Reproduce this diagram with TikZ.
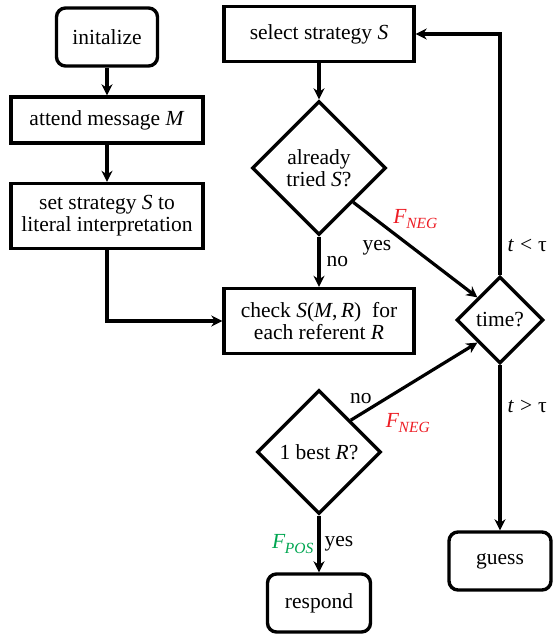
\documentclass[tikz,border=0pt]{standalone}
\usepackage{fontspec}
\setmainfont{Liberation Serif}
\usetikzlibrary{shapes.geometric,arrows.meta}
\definecolor{negred}{RGB}{237,28,36}
\definecolor{posgreen}{RGB}{0,166,81}
\newcommand{\Fsub}[1]{\textit{F}\kern-0.5pt\raisebox{-0.22em}{\fontsize{15.5}{16}\selectfont\textit{#1}}}
\begin{document}
\begin{tikzpicture}[x=1pt,y=1pt,
  every node/.style={font=\fontsize{21.5}{23}\selectfont},
  box/.style={draw,line width=3.4pt,rectangle,align=center,inner sep=2pt},
  rbox/.style={box,rounded corners=9pt},
  dia/.style={draw,line width=3.4pt,diamond,aspect=1,inner sep=0pt,align=center},
  conn/.style={line width=3.2pt,-{Stealth[length=11pt,width=11pt,inset=3.5pt]}},
  lbl/.style={inner sep=2pt}]
\useasboundingbox (0,0) rectangle (553,-636);
% nodes
\node[rbox,minimum width=101pt,minimum height=58pt] (init) at (107,-37) {initalize};
\node[box,minimum width=192pt,minimum height=46pt] (attend) at (107,-120) {attend message \textit{M}};
\node[box,minimum width=192pt,minimum height=65pt] (setS) at (107,-216) {set strategy \textit{S} to\\[-1pt]literal interpretation};
\node[box,minimum width=190pt,minimum height=55pt] (select) at (319,-34) {select strategy \textit{S}};
\node[dia,minimum width=134pt,minimum height=134pt] (tried) at (319,-168) {already\\[-1pt]tried \textit{S}?};
\node[box,minimum width=190pt,minimum height=65pt] (check) at (319,-321) {check \textit{S}(\textit{M},\,\textit{R})\enspace for\\[-1pt]each referent \textit{R}};
\node[dia,minimum width=124pt,minimum height=124pt] (best) at (319,-452) {1 best \textit{R}?};
\node[rbox,minimum width=103pt,minimum height=58pt] (respond) at (319,-603) {respond};
\node[dia,minimum width=87pt,minimum height=87pt] (time) at (500,-320) {time?};
\node[rbox,minimum width=102pt,minimum height=58pt] (guess) at (500,-561) {guess};
% connectors
\draw[conn] (init) -- (attend);
\draw[conn] (attend) -- (setS);
\draw[conn] (setS.south) |- (check.west);
\draw[conn] (select) -- (tried);
\draw[conn] (tried) -- node[lbl,right,xshift=4pt] {no} (check);
\draw[conn] (tried.south east) -- node[lbl,pos=0.5,yshift=31pt,text=negred] {\Fsub{NEG}}
   node[lbl,pos=0.19,yshift=-27pt] {yes} (time.north west);
\draw[conn] (best.north east) -- node[lbl,pos=0.08,yshift=15pt] {no}
   node[lbl,pos=0.45,yshift=-38pt,text=negred] {\Fsub{NEG}} (time.south west);
\draw[conn] (best) -- node[lbl,left,text=posgreen,xshift=-2pt] {\Fsub{POS}}
   node[lbl,right,xshift=2pt] {yes} (respond);
\draw[conn] (time.north) |- node[lbl,pos=0.06,right,xshift=4pt] {\textit{t}\hspace{0.28em}<\hspace{0.28em}τ} (select.east);
\draw[conn] (time) -- node[lbl,pos=0.25,right,xshift=4pt] {\textit{t}\hspace{0.28em}>\hspace{0.28em}τ} (guess);
\end{tikzpicture}
\end{document}
